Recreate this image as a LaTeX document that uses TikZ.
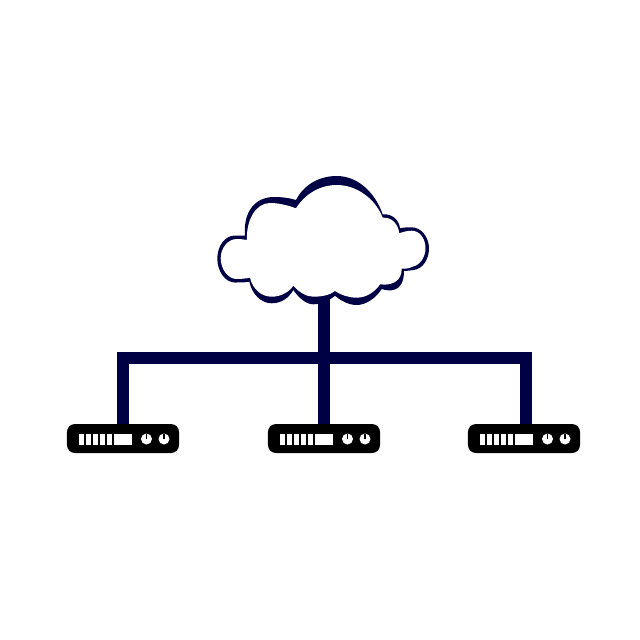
\documentclass[tikz,border=0pt]{standalone}
\usetikzlibrary{positioning, calc}
\definecolor{linknavy}{HTML}{000045}

\tikzset{
  linkbar/.style={draw=linknavy, line width=0.3cm},
  routerbox/.style={fill=black, rounded corners=0.2cm, minimum width=2.8cm, minimum height=0.725cm, inner sep=0pt},
}

% front panel of one router, drawn around the node centre
\newcommand{\routerpanel}[1]{
  \foreach \barx in {-43.7,-36.7,-29.7,-22.7,-15.7} {
    \fill[white] ($(#1)+(\barx,-5)$) rectangle ++(5,11);
  }
  \fill[white] ($(#1)+(-9,-5)$) rectangle ++(17.5,11);
  \foreach \knobx in {23.5,41} {
    \fill[white] ($(#1)+(\knobx,0.5)$) circle (5.5);
    \draw[black, line width=0.04cm] ($(#1)+(\knobx,0.5)$) -- ++(0,-5.5);
  }
}

\begin{document}
\begin{tikzpicture}[x=0.025cm, y=-0.025cm]

% Background
\useasboundingbox (0,0) rectangle (640,640);
\fill[white] (0,0) rectangle (640,640);

% Routers
\node[routerbox] (routerA) at (123,438.5) {};
\node[routerbox] (routerB) at (324,438.5) {};
\node[routerbox] (routerC) at (524,438.5) {};
\coordinate (cloudfoot) at (324,290);
\coordinate (busmid) at (324,358);
\coordinate (dropC) at (525.5,424);

% Links
\draw[linkbar] (routerA.north) |- (busmid) -| (dropC);
\draw[linkbar] (cloudfoot) -- (routerB.north);

% Cloud, outer edge
\fill[linknavy] (245,235.7)
  .. controls (242,235.5) and (238,235.5) .. (235,235.5)
  .. controls (225,235.5) and (217.3,246) .. (217.3,258.5)
  .. controls (217.3,271) and (225,282.5) .. (235,282.5)
  .. controls (240,282.5) and (245,282.5) .. (249.3,281.7)
  .. controls (252,294) and (261,303.3) .. (271.7,303.3)
  .. controls (281,303.3) and (289,298) .. (293.3,290)
  .. controls (299,298) and (306,304.3) .. (313.3,304.3)
  .. controls (322,304.3) and (330,300) .. (335,295.7)
  .. controls (341,301) and (349,305) .. (356.7,305)
  .. controls (366,305) and (376,298) .. (381.7,289)
  .. controls (388,291) and (404,294) .. (404,271)
  .. controls (407,271) and (410,270.5) .. (413.5,270)
  .. controls (423,269) and (429,259) .. (429,248.3)
  .. controls (429,237) and (421,227.3) .. (411.7,227.3)
  .. controls (407,227.3) and (403,227.5) .. (400,228.3)
  .. controls (399,219) and (391,213.5) .. (382.7,214.3)
  .. controls (374,190) and (356,176) .. (336.7,176)
  .. controls (318,176) and (303,186) .. (296,200)
  .. controls (290,198) and (282,197) .. (274,197)
  .. controls (255,197) and (243,212) .. (245,235.7) -- cycle;

% Cloud, inner face
\fill[white] (247,240)
  .. controls (243,239.3) and (240,239) .. (236.7,239)
  .. controls (228,239) and (220.7,248) .. (220.7,258.3)
  .. controls (220.7,269) and (228,279) .. (236.7,279)
  .. controls (241,279) and (246,278.5) .. (250,277.7)
  .. controls (253,290) and (262,296.7) .. (271.7,296.7)
  .. controls (281,296.7) and (289,292) .. (293.3,285.7)
  .. controls (299,292) and (306,296.7) .. (313.3,296.7)
  .. controls (322,296.7) and (330,295) .. (335,291)
  .. controls (341,295) and (349,297.7) .. (356.7,297.7)
  .. controls (366,297.7) and (375,292) .. (380,284.3)
  .. controls (392,286) and (402,281) .. (401.7,268.5)
  .. controls (405,269) and (409,268.5) .. (413,266.5)
  .. controls (420,265) and (425.5,257) .. (425.5,248.3)
  .. controls (425.5,239) and (420,230.7) .. (411.7,230.7)
  .. controls (407,230.7) and (403,232) .. (399.3,233.3)
  .. controls (398,224) and (392,217) .. (382.7,217.7)
  .. controls (375,198) and (356,185) .. (336.7,185)
  .. controls (320,185) and (305,194) .. (296,208.3)
  .. controls (287,205) and (278,203) .. (270,203)
  .. controls (256,203) and (246,220) .. (247,240) -- cycle;

% Router panels
\routerpanel{routerA}
\routerpanel{routerB}
\routerpanel{routerC}

\end{tikzpicture}
\end{document}
